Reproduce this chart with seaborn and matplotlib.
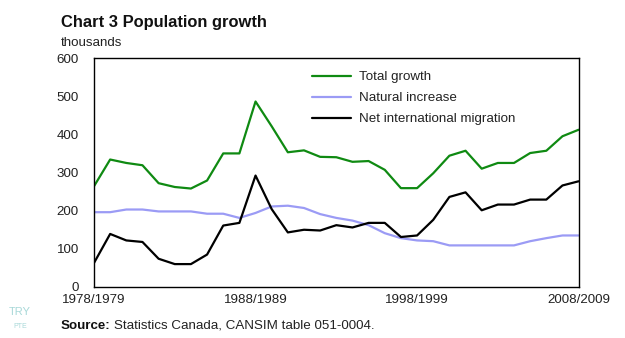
import matplotlib
matplotlib.use("Agg")
import matplotlib.pyplot as plt
import seaborn as sns
import pandas as pd
import numpy as np

periods = [f"{y}/{y+1}" for y in range(1978, 2009)]
total_growth = [264, 334, 325, 319, 272, 262, 258, 279, 350, 350, 486, 421, 353, 358, 341, 340,
                328, 330, 307, 259, 259, 298, 344, 357, 310, 325, 325, 351, 357, 395, 412]
natural_increase = [196, 196, 203, 203, 198, 198, 198, 192, 192, 181, 194, 211, 213, 207, 191, 181,
                    174, 162, 141, 128, 122, 120, 109, 109, 109, 109, 109, 120, 128, 135, 135]
net_migration = [63, 139, 122, 118, 74, 60, 60, 85, 161, 168, 292, 204, 143, 150, 148, 162,
                 156, 168, 168, 131, 135, 176, 236, 248, 201, 216, 216, 229, 229, 266, 277]
series_names = ["Total growth", "Natural increase", "Net international migration"]
tick_labels = ["1978/1979", "1988/1989", "1998/1999", "2008/2009"]
y_ticks = [0, 100, 200, 300, 400, 500, 600]

df = pd.DataFrame({
    "idx": list(range(len(periods))) * 3,
    "value": total_growth + natural_increase + net_migration,
    "series": [series_names[0]] * len(periods) + [series_names[1]] * len(periods) + [series_names[2]] * len(periods),
})

sns.set_style("white")
plt.rcParams['font.family'] = ['Liberation Sans', 'DejaVu Sans']
FS = 9.6

fig = plt.figure(figsize=(6.25, 3.38), dpi=100)
ax = fig.add_axes([0.1504, 0.1509, 0.7754, 0.6775])
palette = {series_names[0]: "#0f8a12", series_names[1]: "#9b9bf5", series_names[2]: "#000000"}
sns.lineplot(data=df, x="idx", y="value", hue="series", palette=palette, ax=ax, linewidth=1.6,
             legend=True)

ax.set_xlim(0, len(periods) - 1)
ax.set_ylim(0, 600)
ax.set_yticks(y_ticks)
ax.set_yticklabels([str(v) for v in y_ticks], fontsize=FS, color="#222222")
ax.set_xticks([0, 10, 20, 30])
ax.set_xticklabels(tick_labels, fontsize=FS, color="#222222")
ax.set_xticks(range(len(periods)), minor=True)
ax.tick_params(axis="x", which="both", direction="in", length=4, width=0.8, color="black", pad=5)
ax.tick_params(axis="y", which="both", length=0, pad=11)
ax.set_xlabel("")
ax.set_ylabel("")
for s in ax.spines.values():
    s.set_color("black")
    s.set_linewidth(1.0)

leg = ax.legend(loc="upper left", bbox_to_anchor=(0.425, 0.995), frameon=False, fontsize=FS,
                handlelength=2.9, handletextpad=0.6, labelspacing=0.65)
for t in leg.get_texts():
    t.set_color("#222222")

fig.text(61 / 625, 1 - 22 / 338, "Chart 3 Population growth", fontsize=11.9, fontweight="bold",
         va="center", ha="left", color="#111111")
fig.text(61 / 625, 1 - 43 / 338, "thousands", fontsize=FS, va="center", ha="left", color="#222222")
t1 = fig.text(61 / 625, 1 - 326 / 338, "Source:", fontsize=FS, fontweight="bold", va="center",
              ha="left", color="#111111")
fig.canvas.draw()
bb = t1.get_window_extent()
fig.text((bb.x1 + 3) / 625, 1 - 326 / 338, "Statistics Canada, CANSIM table 051-0004.",
         fontsize=FS, va="center", ha="left", color="#222222")

fig.text(20 / 625, 1 - 312 / 338, "TRY", fontsize=8, color="#a8d8d8", ha="center", va="center")
fig.text(20 / 625, 1 - 326 / 338, "PTE", fontsize=5, color="#a8d8d8", ha="center", va="center")

fig.savefig("out.png", dpi=100)
